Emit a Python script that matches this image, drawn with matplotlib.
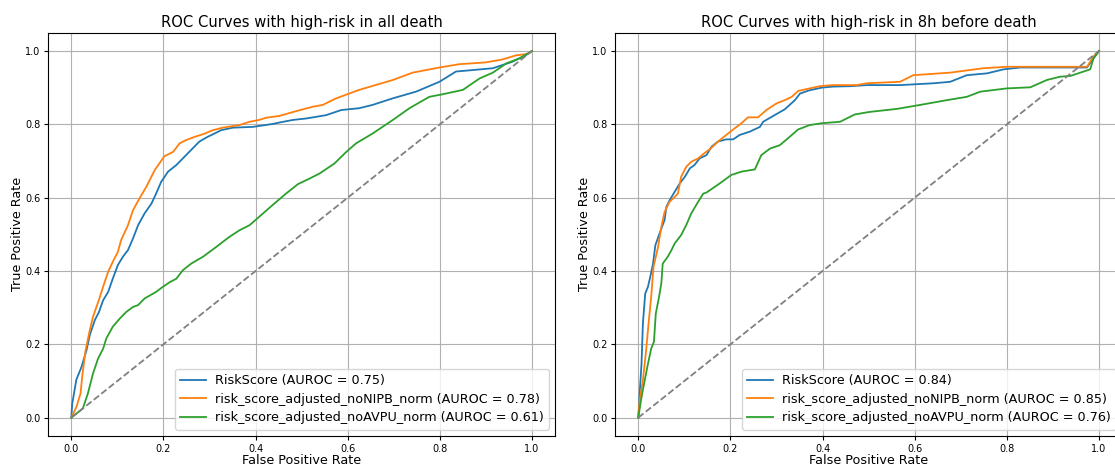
import matplotlib
matplotlib.use("Agg")
import matplotlib.pyplot as plt

# ---- Left panel: all death ----
L_rs_fpr = [0, 0.002, 0.011, 0.022, 0.033, 0.04, 0.051, 0.06, 0.069, 0.08, 0.09, 0.101, 0.112, 0.123, 0.134, 0.145, 0.159, 0.174, 0.184, 0.195, 0.21, 0.228, 0.242, 0.26, 0.278, 0.296, 0.311, 0.325, 0.351, 0.394, 0.437, 0.452, 0.481, 0.51, 0.553, 0.586, 0.625, 0.654, 0.698, 0.748, 0.799, 0.835, 0.871, 0.915, 0.958, 0.987, 1.0]
L_rs_tpr = [0, 0.038, 0.104, 0.138, 0.184, 0.225, 0.266, 0.288, 0.32, 0.343, 0.379, 0.416, 0.439, 0.457, 0.489, 0.525, 0.557, 0.584, 0.611, 0.643, 0.671, 0.689, 0.707, 0.73, 0.753, 0.766, 0.775, 0.784, 0.791, 0.793, 0.801, 0.805, 0.812, 0.816, 0.825, 0.839, 0.844, 0.853, 0.871, 0.889, 0.916, 0.944, 0.948, 0.953, 0.971, 0.989, 1.0]

L_nipb_fpr = [0, 0.011, 0.02, 0.024, 0.031, 0.04, 0.047, 0.061, 0.069, 0.08, 0.09, 0.101, 0.108, 0.123, 0.134, 0.148, 0.163, 0.181, 0.202, 0.221, 0.235, 0.249, 0.268, 0.286, 0.307, 0.329, 0.365, 0.387, 0.408, 0.423, 0.452, 0.488, 0.524, 0.546, 0.575, 0.625, 0.698, 0.741, 0.799, 0.842, 0.9, 0.936, 0.965, 0.99, 1.0]
L_nipb_tpr = [0, 0.029, 0.066, 0.116, 0.184, 0.238, 0.275, 0.325, 0.357, 0.398, 0.425, 0.452, 0.484, 0.525, 0.566, 0.598, 0.63, 0.675, 0.713, 0.725, 0.748, 0.757, 0.766, 0.773, 0.784, 0.791, 0.798, 0.807, 0.812, 0.818, 0.823, 0.836, 0.848, 0.853, 0.871, 0.894, 0.921, 0.941, 0.955, 0.964, 0.969, 0.977, 0.988, 0.992, 1.0]

L_avpu_fpr = [0, 0.025, 0.036, 0.047, 0.058, 0.069, 0.076, 0.09, 0.105, 0.119, 0.134, 0.145, 0.159, 0.184, 0.199, 0.213, 0.228, 0.242, 0.26, 0.286, 0.315, 0.343, 0.365, 0.387, 0.408, 0.437, 0.466, 0.492, 0.517, 0.539, 0.571, 0.597, 0.618, 0.654, 0.698, 0.734, 0.777, 0.806, 0.85, 0.886, 0.915, 0.944, 0.973, 1.0]
L_avpu_tpr = [0, 0.025, 0.066, 0.12, 0.161, 0.188, 0.216, 0.248, 0.27, 0.288, 0.302, 0.307, 0.325, 0.343, 0.357, 0.369, 0.379, 0.402, 0.42, 0.439, 0.466, 0.493, 0.511, 0.525, 0.548, 0.58, 0.611, 0.637, 0.652, 0.666, 0.693, 0.725, 0.748, 0.775, 0.812, 0.844, 0.875, 0.882, 0.894, 0.925, 0.941, 0.966, 0.98, 1.0]

# ---- Right panel: 8h before death ----
R_rs_fpr = [0, 0.003, 0.007, 0.01, 0.015, 0.021, 0.026, 0.032, 0.037, 0.046, 0.057, 0.061, 0.068, 0.079, 0.09, 0.101, 0.112, 0.122, 0.133, 0.148, 0.159, 0.173, 0.191, 0.206, 0.22, 0.242, 0.264, 0.271, 0.293, 0.318, 0.34, 0.351, 0.372, 0.398, 0.423, 0.459, 0.496, 0.568, 0.641, 0.677, 0.713, 0.757, 0.793, 0.829, 0.858, 0.974, 0.988, 1.0]
R_rs_tpr = [0, 0.066, 0.147, 0.257, 0.338, 0.357, 0.384, 0.42, 0.47, 0.502, 0.539, 0.575, 0.593, 0.616, 0.639, 0.657, 0.68, 0.689, 0.707, 0.716, 0.739, 0.753, 0.759, 0.759, 0.771, 0.78, 0.793, 0.807, 0.823, 0.841, 0.866, 0.884, 0.893, 0.9, 0.903, 0.904, 0.907, 0.907, 0.912, 0.916, 0.934, 0.939, 0.95, 0.955, 0.955, 0.955, 0.98, 1.0]

R_nipb_fpr = [0, 0.003, 0.01, 0.017, 0.023, 0.028, 0.033, 0.043, 0.05, 0.057, 0.068, 0.079, 0.086, 0.093, 0.104, 0.115, 0.13, 0.141, 0.157, 0.173, 0.191, 0.209, 0.224, 0.238, 0.26, 0.278, 0.3, 0.318, 0.333, 0.347, 0.372, 0.394, 0.423, 0.474, 0.496, 0.568, 0.597, 0.677, 0.749, 0.8, 0.974, 0.988, 1.0]
R_nipb_tpr = [0, 0.047, 0.102, 0.184, 0.266, 0.329, 0.411, 0.466, 0.52, 0.561, 0.589, 0.602, 0.611, 0.657, 0.684, 0.698, 0.707, 0.719, 0.734, 0.753, 0.771, 0.789, 0.803, 0.819, 0.819, 0.839, 0.857, 0.866, 0.875, 0.891, 0.898, 0.904, 0.907, 0.907, 0.912, 0.916, 0.934, 0.941, 0.953, 0.957, 0.957, 0.985, 1.0]

R_avpu_fpr = [0, 0.007, 0.014, 0.021, 0.028, 0.034, 0.038, 0.045, 0.05, 0.053, 0.064, 0.072, 0.079, 0.093, 0.104, 0.115, 0.13, 0.141, 0.148, 0.177, 0.202, 0.224, 0.253, 0.267, 0.286, 0.307, 0.325, 0.347, 0.372, 0.398, 0.438, 0.47, 0.503, 0.561, 0.612, 0.67, 0.713, 0.742, 0.8, 0.851, 0.887, 0.916, 0.938, 0.981, 0.988, 1.0]
R_avpu_tpr = [0, 0.056, 0.102, 0.147, 0.188, 0.207, 0.284, 0.329, 0.366, 0.42, 0.439, 0.457, 0.475, 0.498, 0.525, 0.557, 0.589, 0.611, 0.614, 0.639, 0.662, 0.671, 0.677, 0.716, 0.734, 0.743, 0.762, 0.786, 0.798, 0.803, 0.807, 0.827, 0.834, 0.842, 0.853, 0.866, 0.875, 0.889, 0.898, 0.901, 0.921, 0.93, 0.932, 0.95, 0.98, 1.0]

titles = ["ROC Curves with high-risk in all death", "ROC Curves with high-risk in 8h before death"]
series_names = ["RiskScore", "risk_score_adjusted_noNIPB_norm", "risk_score_adjusted_noAVPU_norm"]
left_auroc = [0.75, 0.78, 0.61]
right_auroc = [0.84, 0.85, 0.76]
diag = [0, 1]

panels = [
    ([(L_rs_fpr, L_rs_tpr), (L_nipb_fpr, L_nipb_tpr), (L_avpu_fpr, L_avpu_tpr)], left_auroc),
    ([(R_rs_fpr, R_rs_tpr), (R_nipb_fpr, R_nipb_tpr), (R_avpu_fpr, R_avpu_tpr)], right_auroc),
]
colors = ["#1f77b4", "#ff7f0e", "#2ca02c"]

fig = plt.figure(figsize=(11.15, 4.66), dpi=100)
ax_pos = [[0.0433, 0.0644, 0.4545, 0.8655], [0.5518, 0.0644, 0.4545, 0.8655]]

for i, (curves, aucs) in enumerate(panels):
    ax = fig.add_axes(ax_pos[i])
    for (fpr, tpr), name, auc, c in zip(curves, series_names, aucs, colors):
        ax.plot(fpr, tpr, color=c, lw=1.3, label=f"{name} (AUROC = {auc:.2f})")
    ax.plot(diag, diag, linestyle="--", color="gray", lw=1.3)
    ax.set_xlim(-0.05, 1.05)
    ax.set_ylim(-0.05, 1.05)
    ax.set_title(titles[i], fontsize=10.6, pad=4)
    ax.set_xlabel("False Positive Rate", fontsize=9.2, labelpad=0.5)
    ax.set_ylabel("True Positive Rate", fontsize=9.2, labelpad=1)
    ax.tick_params(labelsize=7, length=3, pad=2.5)
    ax.grid(True, color="#b0b0b0", lw=0.8)
    ax.legend(loc="lower right", fontsize=9.2, handlelength=2.0, borderpad=0.4,
              labelspacing=0.45, handletextpad=0.7)

fig.savefig("out.png", dpi=100)
